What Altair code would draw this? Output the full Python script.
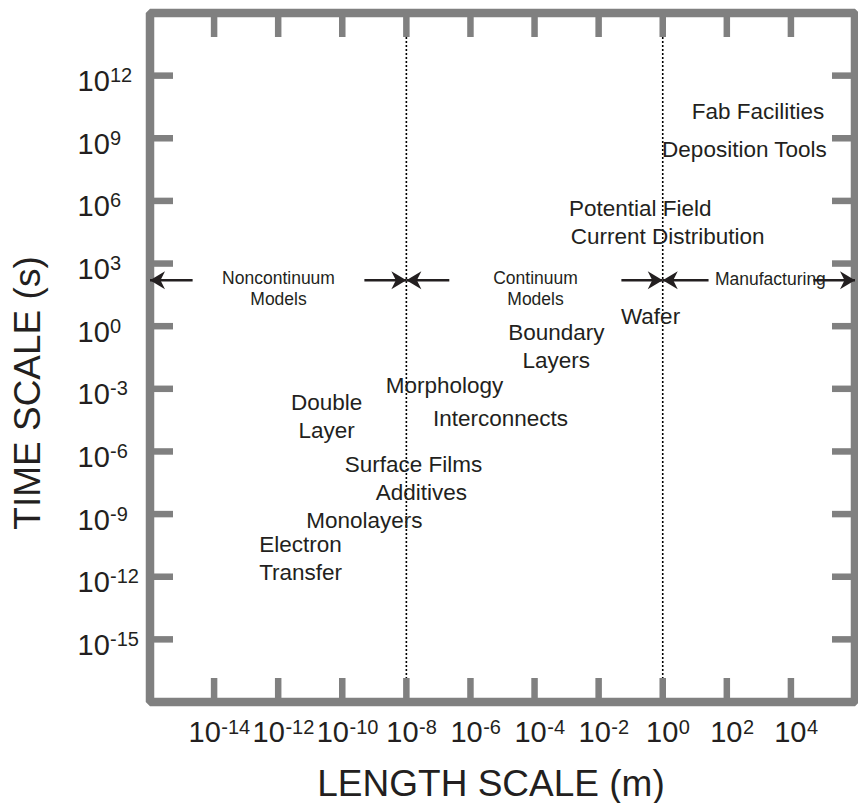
import altair as alt
import pandas as pd

# ---- data (log10 values) ----
length_ticks = [-14, -12, -10, -8, -6, -4, -2, 0, 2, 4]          # log10(m)
time_ticks = [12, 9, 6, 3, 0, -3, -6, -9, -12, -15]              # log10(s)
regime_edges = [-8, 0]                                            # log10(m)

label_text = ["Fab Facilities", "Deposition Tools", "Potential Field",
              "Current Distribution", "Wafer", "Boundary", "Layers",
              "Morphology", "Double", "Layer", "Interconnects",
              "Surface Films", "Additives", "Monolayers", "Electron", "Transfer"]
label_len = [2.97, 2.55, -0.70, 0.15, -0.38, -3.32, -3.32, -6.81,
             -10.49, -10.49, -5.06, -7.78, -7.53, -9.31, -11.30, -11.30]
label_time = [10.28, 8.42, 5.59, 4.25, 0.42, -0.34, -1.68, -2.88,
              -3.69, -5.03, -4.46, -6.66, -8.0, -9.34, -10.49, -11.83]

regime_text = ["Noncontinuum", "Models", "Continuum", "Models", "Manufacturing"]
regime_len = [-11.99, -11.99, -3.97, -3.97, 3.36]
regime_time = [2.24, 1.24, 2.24, 1.24, 2.19]

arrow_tail = [-14.67, -9.31, -6.66, -1.29, 1.43, 4.70]
arrow_head = [-16, -8, -8, 0, 0, 6]
arrow_time = 2.2

# ---- layout / style ----
W, H = 705, 689
FONT = "Liberation Sans"
INK = "#231f20"
GRAY = "#808080"

xs = alt.Scale(type="log", domain=[1e-16, 1e6], nice=False)
ys = alt.Scale(type="log", domain=[1e-18, 1e15], nice=False)

xt = pd.DataFrame({"length": [10.0 ** e for e in length_ticks],
                   "exp": [str(e) for e in length_ticks]})
xt["n"] = xt["exp"].str.len()
yt = pd.DataFrame({"time": [10.0 ** e for e in time_ticks],
                   "exp": [str(e) for e in time_ticks]})
edges = pd.DataFrame({"length": [10.0 ** e for e in regime_edges]})
labels = pd.DataFrame({"text": label_text,
                       "length": [10.0 ** e for e in label_len],
                       "time": [10.0 ** e for e in label_time]})
regimes = pd.DataFrame({"text": regime_text,
                        "length": [10.0 ** e for e in regime_len],
                        "time": [10.0 ** e for e in regime_time]})
arrows = pd.DataFrame({"tail": [10.0 ** e for e in arrow_tail],
                       "head": [10.0 ** e for e in arrow_head],
                       "time": [10.0 ** arrow_time] * len(arrow_tail)})
arrows["angle"] = [0 if h > t else 180 for h, t in zip(arrow_head, arrow_tail)]

X = lambda f: alt.X(f, type="quantitative", scale=xs, axis=None)
Y = lambda f: alt.Y(f, type="quantitative", scale=ys, axis=None)

# regime boundaries
dotted = alt.Chart(edges).mark_rule(stroke="black", strokeWidth=1.6, strokeDash=[2, 2]).encode(
    x=X("length"), y=alt.value(0), y2=alt.value(H))

# inward ticks on all four sides
tick_style = dict(stroke=GRAY, strokeWidth=6.5, strokeCap="butt")
top_ticks = alt.Chart(xt).mark_rule(**tick_style).encode(x=X("length"), y=alt.value(0), y2=alt.value(24))
bot_ticks = alt.Chart(xt).mark_rule(**tick_style).encode(x=X("length"), y=alt.value(H - 24), y2=alt.value(H))
left_ticks = alt.Chart(yt).mark_rule(**tick_style).encode(y=Y("time"), x=alt.value(0), x2=alt.value(23))
right_ticks = alt.Chart(yt).mark_rule(**tick_style).encode(y=Y("time"), x=alt.value(W - 23), x2=alt.value(W))

# x tick labels: "10" plus raised exponent, centred on the tick
BASE, SUP = 29, 20
x_labels = []
for n, shift in [(1, 15.6), (2, 12.2), (3, 6.7)]:
    sub = alt.Chart(xt).transform_filter(alt.datum.n == n)
    x_labels.append(sub.mark_text(align="right", baseline="alphabetic", dx=shift, font=FONT,
                                  fontSize=BASE, color=INK, text="10").encode(
        x=X("length"), y=alt.value(H + 40)))
    x_labels.append(sub.mark_text(align="left", baseline="alphabetic", dx=shift + 0.5, font=FONT,
                                  fontSize=SUP, color=INK).encode(
        x=X("length"), y=alt.value(H + 32), text="exp:N"))

# y tick labels: left aligned column
y_base = alt.Chart(yt).mark_text(align="left", baseline="alphabetic", dy=15.5, font=FONT,
                                 fontSize=BASE, color=INK, text="10").encode(
    y=Y("time"), x=alt.value(-72.5))
y_sup = alt.Chart(yt).mark_text(align="left", baseline="alphabetic", dy=6.5, font=FONT,
                                fontSize=SUP, color=INK).encode(
    y=Y("time"), x=alt.value(-40), text="exp:N")

# phenomena
phen = alt.Chart(labels).mark_text(align="center", baseline="middle", font=FONT,
                                   fontSize=22.5, color=INK).encode(
    x=X("length"), y=Y("time"), text="text:N")

# regime names
reg = alt.Chart(regimes).mark_text(align="center", baseline="middle", font=FONT,
                                   fontSize=17.5, color=INK).encode(
    x=X("length"), y=Y("time"), text="text:N")

# arrows
shafts = alt.Chart(arrows).mark_rule(stroke=INK, strokeWidth=2.5).encode(
    x=X("tail"), x2="head", y=Y("time"))
heads = alt.Chart(arrows).mark_point(
    shape="M0,0 L-2,-1.2 L-1.4,0 L-2,1.2 Z", filled=True, fill=INK, stroke=None,
    size=225, opacity=1).encode(
    x=X("head"), y=Y("time"), angle=alt.Angle("angle:Q", scale=None))

# axis titles
x_title = alt.Chart(pd.DataFrame({"t": ["LENGTH SCALE (m)"]})).mark_text(
    align="center", baseline="alphabetic", font=FONT, fontSize=37, color=INK).encode(
    x=alt.value(341), y=alt.value(783), text="t:N")
y_title = alt.Chart(pd.DataFrame({"t": ["TIME SCALE (s)"]})).mark_text(
    align="center", baseline="alphabetic", angle=270, font=FONT, fontSize=37, color=INK).encode(
    x=alt.value(-110), y=alt.value(380), text="t:N")

chart = alt.layer(
    dotted, top_ticks, bot_ticks, left_ticks, right_ticks,
    *x_labels, y_base, y_sup, phen, reg, shafts, heads, x_title, y_title
).properties(
    width=W, height=H,
    autosize=alt.AutoSizeParams(type="none"),
    padding={"left": 150, "top": 13, "right": 3, "bottom": 101},
).configure(
    background="white"
).configure_view(
    stroke=GRAY, strokeWidth=8.5, strokeJoin="bevel"
)

chart.save("out.html", embed_options={"renderer": "svg", "actions": False})
